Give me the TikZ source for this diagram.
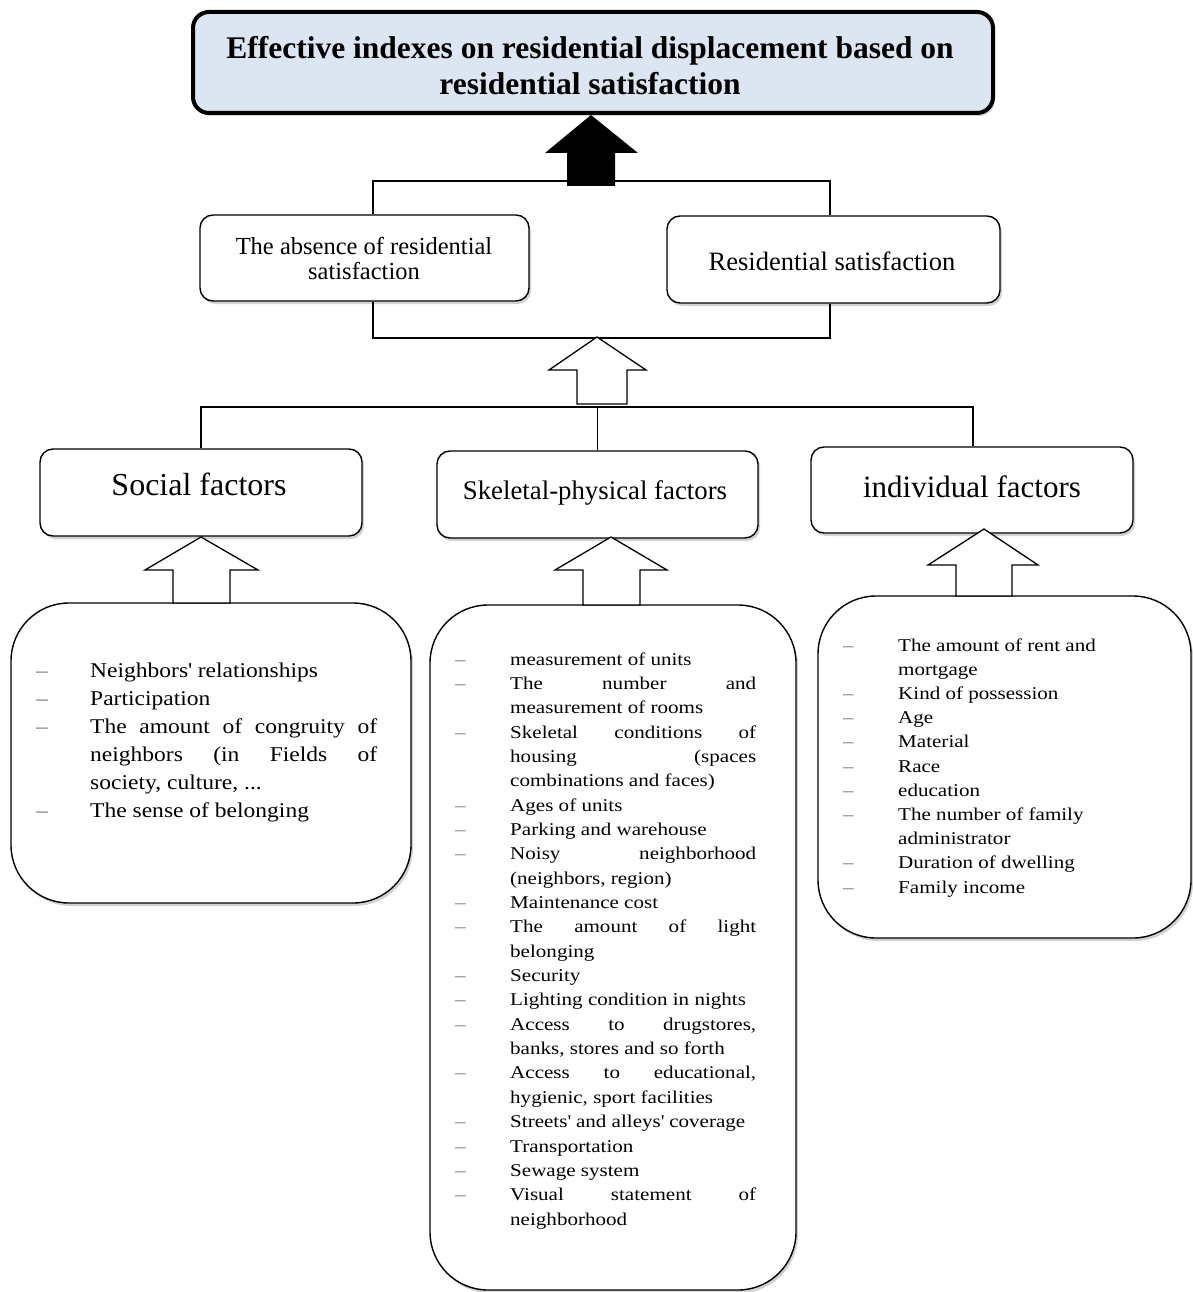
\documentclass[tikz,border=0pt]{standalone}
\usepackage{fontspec}
\setmainfont{Liberation Serif}
\newfontfamily\wserif[FakeStretch=1.17]{Liberation Serif}
\newfontfamily\sserif[FakeStretch=1.12]{Liberation Serif}
\usetikzlibrary{shadows,calc}
\definecolor{titlefill}{HTML}{DCE6F2}
\newcommand\dsh[1]{\makebox[#1][l]{\color{black!55}\textendash}}
\newcommand\sline[2]{\makebox[#1][s]{#2}}
\newcommand\ap{\textquotesingle}
\begin{document}
\begin{tikzpicture}[x=1pt,y=-1pt,
  shd/.style={drop shadow={shadow xshift=2pt,shadow yshift=-3pt,fill=black!35}},
  hbox/.style={draw,line width=1.4pt,rounded corners=13pt,fill=white,shd,inner sep=0pt},
  lbox/.style={draw,line width=1.4pt,rounded corners=58pt,fill=white,shd,inner sep=0pt},
  barrow/.style={draw,line width=1.3pt,fill=white,line join=miter},
  conn/.style={line width=1.2pt},
  lst/.style={anchor=base west,inner sep=0pt}]
\useasboundingbox (0,0) rectangle (1193,1292);
% title
\node[draw,line width=4pt,rounded corners=16pt,fill=titlefill,shd,minimum width=800pt,minimum height=101pt] (title) at (593,62.5) {};
\node[font=\fontsize{31.5}{36}\selectfont\bfseries,align=center] (titlet) at (590,66) {Effective indexes on residential displacement based on\\ residential satisfaction};
% black arrow
\fill (591,115) -- (638,153) -- (615,153) -- (615,186) -- (567,186) -- (567,153) -- (545,153) -- cycle;
% middle boxes
\node[hbox,minimum width=329pt,minimum height=86pt] (abs) at (364.5,258) {};
\node[font=\fontsize{24.5}{25}\selectfont,align=center] (abst) at (364,258) {The absence of residential\\ satisfaction};
\node[hbox,minimum width=333pt,minimum height=87pt] (res) at (833.5,259.5) {};
\node[font=\fontsize{26.5}{27}\selectfont] (rest) at (832,261) {Residential satisfaction};
\coordinate (j1) at (373,181); \coordinate (j2) at (830,181);
\draw[conn] (abs.north -| j1) -- (j1) -- (j2) -- (res.north -| j2);
\coordinate (j3) at (373,338); \coordinate (j4) at (830,338);
\draw[conn] (abs.south -| j3) -- (j3) -- (j4) -- (res.south -| j4);
% hollow arrow top
\draw[barrow] (597,337) -- (646,370) -- (627,370) -- (627,404) -- (577,404) -- (577,370) -- (549,370) -- cycle;
% factor boxes
\coordinate (d1) at (201,407); \coordinate (d3) at (973,407);
\node[hbox,minimum width=322pt,minimum height=87pt] (soc) at (201,492.5) {};
\node[font=\fontsize{32}{34}\selectfont] (soct) at (199,484) {Social factors};
\node[hbox,minimum width=321pt,minimum height=87pt] (sk) at (597.5,494.5) {};
\node[font=\fontsize{26.8}{28}\selectfont] (skt) at (595,493) {Skeletal-physical factors};
\node[hbox,minimum width=322pt,minimum height=86pt] (ind) at (972,490) {};
\node[font=\fontsize{31}{33}\selectfont] (indt) at (972,487) {individual factors};
\draw[conn] (soc.north -| d1) -- (d1) -- (d3) -- (ind.north -| d3);
\draw[conn] (sk.north) -- (sk.north |- d1);
% list boxes
\node[lbox,minimum width=400pt,minimum height=300pt] (socl) at (211,753) {};
\node[lbox,minimum width=366pt,minimum height=685pt] (skl) at (613,947.5) {};
\node[lbox,minimum width=373pt,minimum height=342pt] (indl) at (1004.5,767) {};
% hollow arrows
\draw[barrow] (201,537) -- (258,570) -- (230,570) -- (230,603) -- (173,603) -- (173,570) -- (145,570) -- cycle;
\draw[barrow] (611,537) -- (667,570) -- (640,570) -- (640,605) -- (583,605) -- (583,570) -- (555,570) -- cycle;
\draw[barrow] (984,529) -- (1038,565) -- (1012,565) -- (1012,596) -- (956,596) -- (956,565) -- (928,565) -- cycle;
% lists
\node[lst] (soclist) at (36,677) {\parbox[t]{400pt}{\sserif\fontsize{21}{28}\selectfont
\dsh{54pt}Neighbors\ap{} relationships\\
\dsh{54pt}Participation\\
\dsh{54pt}\sline{287pt}{The amount of congruity of}\\
\hspace*{54pt}\sline{287pt}{neighbors (in Fields of}\\
\hspace*{54pt}society, culture, ...\\
\dsh{54pt}The sense of belonging}};
\node[lst] (sklist) at (455,665) {\parbox[t]{360pt}{\wserif\fontsize{18}{24.35}\selectfont
\dsh{55pt}measurement of units\\
\dsh{55pt}\sline{246pt}{The number and}\\
\hspace*{55pt}measurement of rooms\\
\dsh{55pt}\sline{246pt}{Skeletal conditions of}\\
\hspace*{55pt}\sline{246pt}{housing (spaces}\\
\hspace*{55pt}combinations and faces)\\
\dsh{55pt}Ages of units\\
\dsh{55pt}Parking and warehouse\\
\dsh{55pt}\sline{246pt}{Noisy neighborhood}\\
\hspace*{55pt}(neighbors, region)\\
\dsh{55pt}Maintenance cost\\
\dsh{55pt}\sline{246pt}{The amount of light}\\
\hspace*{55pt}belonging\\
\dsh{55pt}Security\\
\dsh{55pt}Lighting condition in nights\\
\dsh{55pt}\sline{246pt}{Access to drugstores,}\\
\hspace*{55pt}banks, stores and so forth\\
\dsh{55pt}\sline{246pt}{Access to educational,}\\
\hspace*{55pt}hygienic, sport facilities\\
\dsh{55pt}Streets\ap{} and alleys\ap{} coverage\\
\dsh{55pt}Transportation\\
\dsh{55pt}Sewage system\\
\dsh{55pt}\sline{246pt}{Visual statement of}\\
\hspace*{55pt}neighborhood}};
\node[lst] (indlist) at (843,651) {\parbox[t]{340pt}{\wserif\fontsize{18}{24.2}\selectfont
\dsh{55pt}The amount of rent and\\
\hspace*{55pt}mortgage\\
\dsh{55pt}Kind of possession\\
\dsh{55pt}Age\\
\dsh{55pt}Material\\
\dsh{55pt}Race\\
\dsh{55pt}education\\
\dsh{55pt}The number of family\\
\hspace*{55pt}administrator\\
\dsh{55pt}Duration of dwelling\\
\dsh{55pt}Family income}};
\end{tikzpicture}
\end{document}
